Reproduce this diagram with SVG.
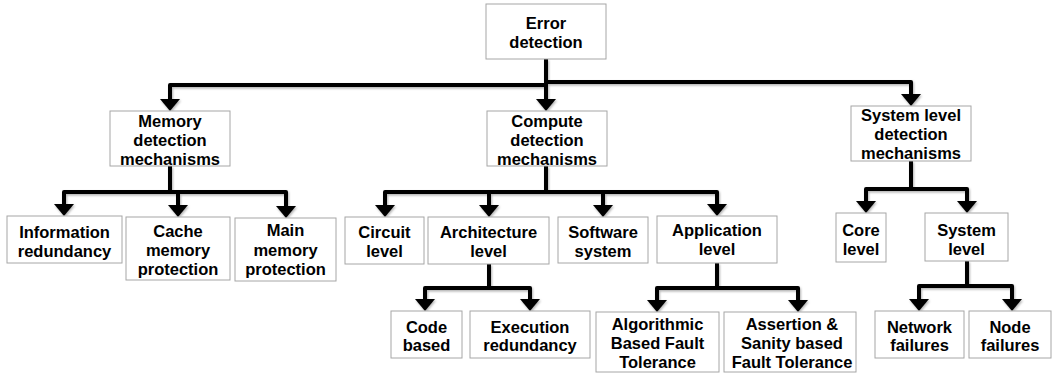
<svg xmlns="http://www.w3.org/2000/svg" width="1053" height="374" viewBox="0 0 1053 374">
<style>
.box{fill:#fff;stroke:#a6a6a6;stroke-width:1}
.t{font-family:"Liberation Sans",Arial,sans-serif;font-weight:bold;font-size:16.5px;fill:#000;text-anchor:middle}
.c{fill:none;stroke:#000;stroke-width:4;stroke-linejoin:round;marker-end:url(#ah)}
</style>
<defs>
<marker id="ah" markerUnits="userSpaceOnUse" markerWidth="13" markerHeight="20" refX="0" refY="10" orient="auto">
<path d="M0,0 L12,10 L0,20 z" fill="#000"/>
</marker>
<filter id="sh" x="-5%" y="-5%" width="110%" height="120%">
<feDropShadow dx="1" dy="1.5" stdDeviation="1" flood-color="#000" flood-opacity="0.3"/>
</filter>
</defs>
<g id="connectors" filter="url(#sh)">
<path class="c" d="M546,59 V99"/>
<path class="c" d="M546,85 H170 V99"/>
<path class="c" d="M546,82 H911 V94"/>
<path class="c" d="M170,166 V192 H64 V204"/>
<path class="c" d="M170,192 H178 V205"/>
<path class="c" d="M170,192 H286 V206"/>
<path class="c" d="M546,166 V192 H385 V205"/>
<path class="c" d="M546,192 H489 V205"/>
<path class="c" d="M546,192 H603 V205"/>
<path class="c" d="M546,192 H717 V204"/>
<path class="c" d="M911,161 V189 H866 V201"/>
<path class="c" d="M911,189 H967 V201"/>
<path class="c" d="M489,264 V288 H425 V299"/>
<path class="c" d="M489,288 H530 V299"/>
<path class="c" d="M717,263 V288 H657 V300"/>
<path class="c" d="M717,288 H798 V300"/>
<path class="c" d="M967,261 V286 H919 V299"/>
<path class="c" d="M967,286 H1012 V299"/>
</g>
<g id="error-detection"><rect class="box" x="486" y="4" width="120" height="55"/><text class="t" x="546" y="29">Error</text><text class="t" x="546" y="48">detection</text></g>
<g id="memory"><rect class="box" x="110" y="111" width="120" height="55"/><text class="t" x="170" y="127">Memory</text><text class="t" x="170" y="146">detection</text><text class="t" x="170" y="165">mechanisms</text></g>
<g id="compute"><rect class="box" x="487" y="111" width="120" height="55"/><text class="t" x="547" y="127">Compute</text><text class="t" x="547" y="146">detection</text><text class="t" x="547" y="165">mechanisms</text></g>
<g id="system-detection"><rect class="box" x="851" y="106" width="120" height="55"/><text class="t" x="911" y="121">System level</text><text class="t" x="911" y="140">detection</text><text class="t" x="911" y="159">mechanisms</text></g>
<g id="info-redundancy"><rect class="box" x="7" y="216" width="115" height="47"/><text class="t" x="64.5" y="238">Information</text><text class="t" x="64.5" y="257">redundancy</text></g>
<g id="cache"><rect class="box" x="126" y="217" width="104" height="63"/><text class="t" x="178" y="237">Cache</text><text class="t" x="178" y="256">memory</text><text class="t" x="178" y="275">protection</text></g>
<g id="main"><rect class="box" x="235" y="218" width="101" height="63"/><text class="t" x="285.5" y="236">Main</text><text class="t" x="285.5" y="256">memory</text><text class="t" x="285.5" y="275">protection</text></g>
<g id="circuit"><rect class="box" x="345" y="217" width="79" height="47"/><text class="t" x="384.5" y="238">Circuit</text><text class="t" x="384.5" y="257">level</text></g>
<g id="architecture"><rect class="box" x="428" y="217" width="121" height="47"/><text class="t" x="488.5" y="238">Architecture</text><text class="t" x="488.5" y="257">level</text></g>
<g id="software"><rect class="box" x="558" y="217" width="90" height="46"/><text class="t" x="603" y="238">Software</text><text class="t" x="603" y="257">system</text></g>
<g id="application"><rect class="box" x="657" y="216" width="120" height="47"/><text class="t" x="717" y="236">Application</text><text class="t" x="717" y="255">level</text></g>
<g id="code"><rect class="box" x="391" y="311" width="71" height="47"/><text class="t" x="426.5" y="333">Code</text><text class="t" x="426.5" y="351">based</text></g>
<g id="execution"><rect class="box" x="470" y="311" width="120" height="47"/><text class="t" x="530" y="333">Execution</text><text class="t" x="530" y="351">redundancy</text></g>
<g id="abft"><rect class="box" x="596" y="312" width="123" height="60"/><text class="t" x="657.5" y="330">Algorithmic</text><text class="t" x="657.5" y="349">Based Fault</text><text class="t" x="657.5" y="368">Tolerance</text></g>
<g id="assertion"><rect class="box" x="724" y="312" width="132" height="60"/><text class="t" x="792" y="330">Assertion &amp;</text><text class="t" x="792" y="349">Sanity based</text><text class="t" x="792" y="368">Fault Tolerance</text></g>
<g id="core"><rect class="box" x="836" y="213" width="50" height="49"/><text class="t" x="861" y="236">Core</text><text class="t" x="861" y="255">level</text></g>
<g id="system-level"><rect class="box" x="925" y="213" width="83" height="48"/><text class="t" x="966.5" y="236">System</text><text class="t" x="966.5" y="255">level</text></g>
<g id="network"><rect class="box" x="875" y="311" width="89" height="47"/><text class="t" x="919.5" y="333">Network</text><text class="t" x="919.5" y="351">failures</text></g>
<g id="node"><rect class="box" x="969" y="311" width="82" height="47"/><text class="t" x="1010" y="333">Node</text><text class="t" x="1010" y="351">failures</text></g>
</svg>
